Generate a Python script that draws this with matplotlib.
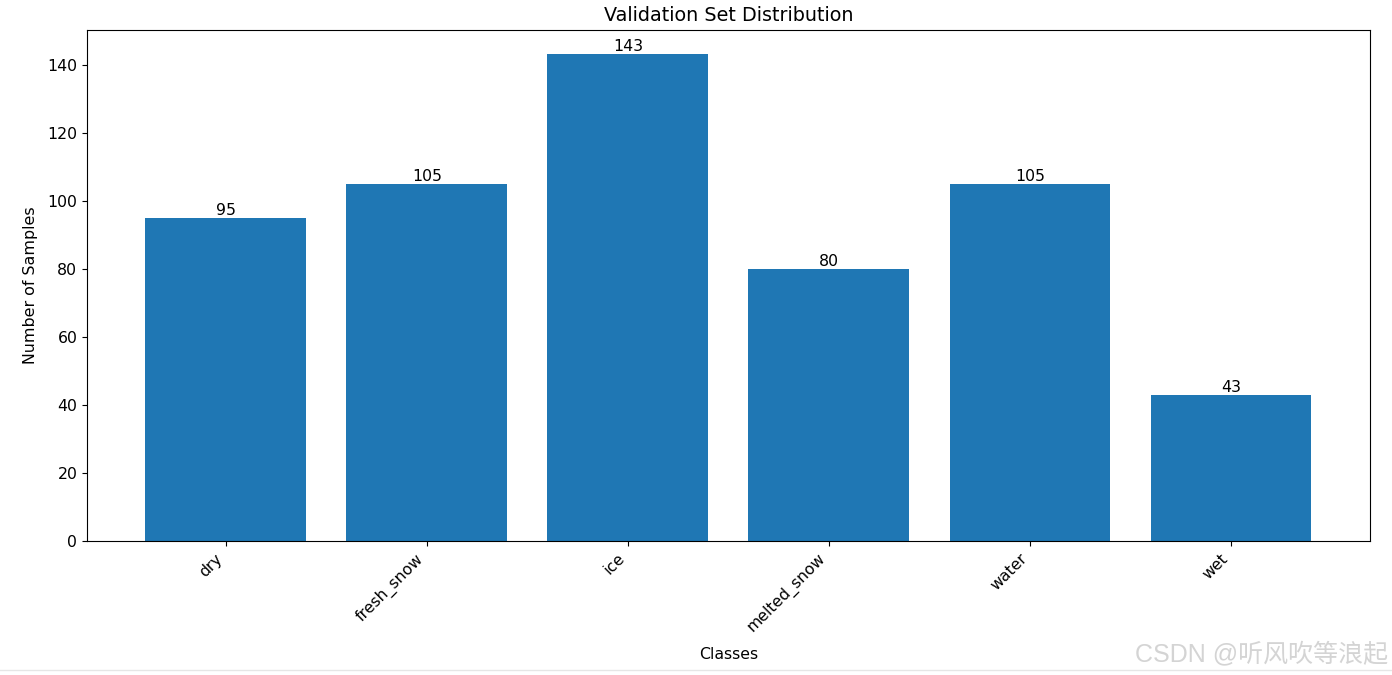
import matplotlib.pyplot as plt

# Class counts in the validation set
classes = ["dry", "fresh_snow", "ice", "melted_snow", "water", "wet"]
counts = [95, 105, 143, 80, 105, 43]

fig = plt.figure(figsize=(13.92, 6.75), dpi=100)
ax = fig.add_axes([0.0625, 0.1985, 0.9215, 0.757])

bars = ax.bar(classes, counts, color="#1f77b4")
for b, v in zip(bars, counts):
    ax.text(b.get_x() + b.get_width() / 2, v, str(v), ha="center", va="bottom", fontsize=11.3)

ax.set_title("Validation Set Distribution", fontsize=13.8, pad=6.5)
ax.set_xlabel("Classes", fontsize=11.3, labelpad=8)
ax.set_ylabel("Number of Samples", fontsize=11.4, labelpad=7)
plt.setp(ax.get_xticklabels(), rotation=45, ha="right", fontsize=11.3)
plt.setp(ax.get_yticklabels(), fontsize=11.3)

# watermark
fig.text(0.997, 0.013, "CSDN @听风吹等浪起", ha="right", va="bottom", fontsize=18,
         color="#d4d4d4", family=["Liberation Sans", "Noto Sans CJK SC"])
fig.add_artist(plt.Line2D([0, 1], [0.008, 0.008], color="#e6e6e6", lw=1))

fig.savefig("out.png", dpi=100)
